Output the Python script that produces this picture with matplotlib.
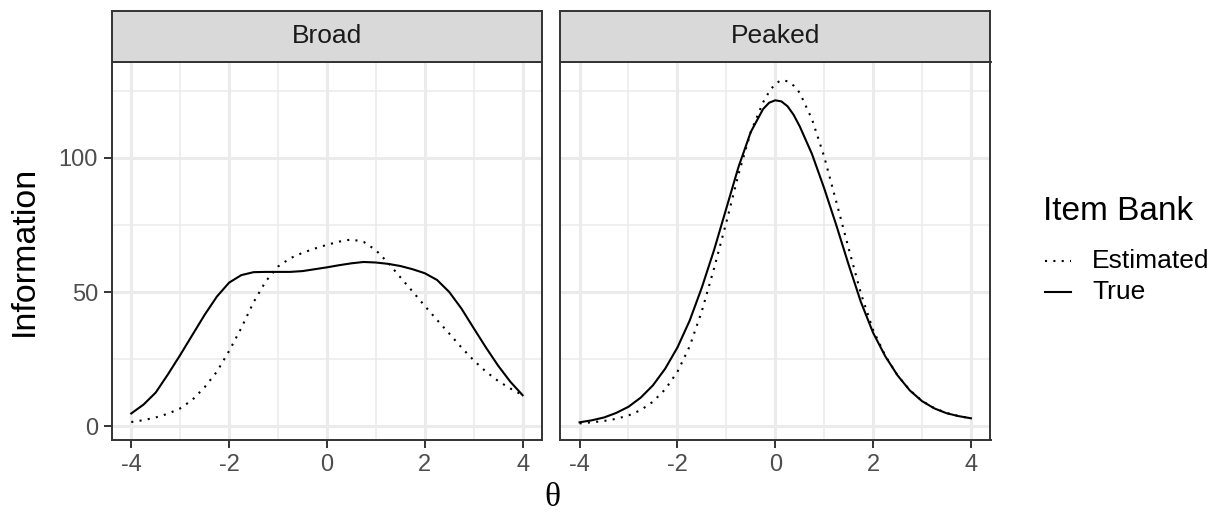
import matplotlib
matplotlib.use("Agg")
import matplotlib.pyplot as plt
from matplotlib.lines import Line2D

# ---- data ----
theta_broad = [-4, -3.75, -3.5, -3.25, -3, -2.75, -2.5, -2.25, -2, -1.75, -1.5, -1.25, -1,
               -0.75, -0.5, -0.25, 0, 0.25, 0.5, 0.75, 1, 1.25, 1.5, 1.75, 2, 2.25, 2.5,
               2.75, 3, 3.25, 3.5, 3.75, 4]
broad_true = [4.7, 8.0, 12.5, 19.3, 26.5, 34, 41.5, 48.3, 53.5, 56.3, 57.4, 57.5, 57.5,
              57.5, 57.8, 58.5, 59.2, 60, 60.7, 61.2, 61, 60.5, 59.7, 58.5, 57.0, 54.5, 50.0,
              43.8, 36.5, 29.3, 22.5, 16.5, 11.5]
broad_est = [1.5, 2.2, 3.2, 4.6, 6.6, 9.8, 14.5, 20.3, 28, 36.6, 46.2, 54.0, 59.5,
             62.6, 64.6, 66.2, 67.6, 68.8, 69.6, 68.7, 65.6, 60.9, 55.5, 50.2, 44.8, 39.6, 34.5,
             29.3, 24.5, 20.3, 16.8, 14, 11.5]

theta_peaked = [-4, -3.75, -3.5, -3.25, -3, -2.75, -2.5, -2.25, -2, -1.75, -1.5, -1.25, -1,
                -0.75, -0.5, -0.25, -0.125, 0, 0.125, 0.25, 0.375, 0.5, 0.75, 1, 1.25, 1.5,
                1.75, 2, 2.25, 2.5, 2.75, 3, 3.25, 3.5, 3.75, 4]
peaked_true = [1.4, 2.15, 3.2, 4.9, 7.2, 10.6, 15.2, 21.4, 29.3, 39.3, 51.7, 65.7, 81.2,
               96.7, 109.7, 118.2, 120.6, 121.5, 121.1, 119.3, 116.1, 111.8, 101.5, 88.7, 74.8,
               60.2, 46.3, 34.8, 26.0, 18.9, 13.3, 9.3, 6.6, 4.8, 3.7, 2.9]
peaked_est = [1.0, 1.4, 1.9, 2.7, 3.95, 5.95, 9.1, 13.7, 20.2, 29.7, 42.9, 58.9, 76.0,
              94.0, 109.7, 120.7, 124.7, 127.7, 129.0, 128.6, 127.0, 124.3, 114.5, 100.5, 83.5,
              66.3, 49.5, 35.8, 26.2, 18.9, 13.4, 9.4, 6.7, 4.9, 3.7, 2.9]

panels = ["Broad", "Peaked"]
series = {"Broad": (theta_broad, broad_est, broad_true),
          "Peaked": (theta_peaked, peaked_est, peaked_true)}
legend_labels = ["Estimated", "True"]
x_ticks = [-4, -2, 0, 2, 4]
y_ticks = [0, 50, 100]

plt.rcParams['font.family'] = ['Liberation Sans', 'DejaVu Sans']
plt.rcParams['axes.unicode_minus'] = False

W, H = 1225, 514
fig = plt.figure(figsize=(W / 100, H / 100), dpi=100)

dark = '#333333'
txt = '#4D4D4D'
lefts = [111.7, 560]
pw = 430.5
ptop, pbot = 61.7, 440
strip_top = 11
LW = 1.5
dotted = (0, (1, 3))

for i, name in enumerate(panels):
    l = lefts[i]
    ax = fig.add_axes([l / W, (H - pbot) / H, pw / W, (pbot - ptop) / H])
    ax.set_xlim(-4.4, 4.4)
    ax.set_ylim(-5.2, 135.9)
    ax.set_xticks(x_ticks)
    ax.set_xticks([-3, -1, 1, 3], minor=True)
    ax.set_yticks(y_ticks)
    ax.set_yticks([25, 75, 125], minor=True)
    ax.grid(which='major', color='#EBEBEB', lw=2.2, zorder=0)
    ax.grid(which='minor', color='#EBEBEB', lw=1.1, zorder=0)
    ax.set_axisbelow(True)
    for s in ax.spines.values():
        s.set_color(dark)
        s.set_linewidth(1.4)
    ax.tick_params(which='major', length=5.8, width=1.4, color=dark,
                   labelcolor=txt, labelsize=17, pad=4)
    ax.tick_params(which='minor', length=0)
    if i == 1:
        ax.tick_params(axis='y', which='major', left=False, labelleft=False)
    th, est, tru = series[name]
    ax.plot(th, est, color='black', lw=LW, linestyle=dotted,
            dash_capstyle='butt', solid_joinstyle='round', zorder=3)
    ax.plot(th, tru, color='black', lw=LW, solid_joinstyle='round', zorder=3)
    if i == 0:
        ax.set_ylabel('Information', fontsize=24.5, color='black')
        ax.yaxis.set_label_coords(-0.166, 0.5)

    sax = fig.add_axes([l / W, (H - ptop) / H, pw / W, (ptop - strip_top) / H])
    sax.set_facecolor('#D9D9D9')
    sax.set_xticks([])
    sax.set_yticks([])
    for s in sax.spines.values():
        s.set_color(dark)
        s.set_linewidth(1.4)
    sax.text(0.5, 0.5, name, transform=sax.transAxes, ha='center', va='center',
             fontsize=19, color='#1A1A1A')

fig.text(552 / W, 1 - 498 / H, 'θ', ha='center', va='center', fontsize=24,
         family=['Liberation Serif', 'DejaVu Serif'])

# legend
fig.text(1043 / W, 1 - 212 / H, 'Item Bank', ha='left', va='center', fontsize=24)
fig.add_artist(Line2D([1045 / W, 1071 / W], [1 - 261 / H, 1 - 261 / H],
                      color='black', lw=LW, linestyle=dotted,
                      dash_capstyle='butt', transform=fig.transFigure))
fig.add_artist(Line2D([1045 / W, 1071 / W], [1 - 292 / H, 1 - 292 / H],
                      color='black', lw=LW, transform=fig.transFigure))
fig.text(1092 / W, 1 - 261 / H, legend_labels[0], ha='left', va='center', fontsize=19)
fig.text(1092 / W, 1 - 292 / H, legend_labels[1], ha='left', va='center', fontsize=19)

fig.savefig('out.png', dpi=100)
